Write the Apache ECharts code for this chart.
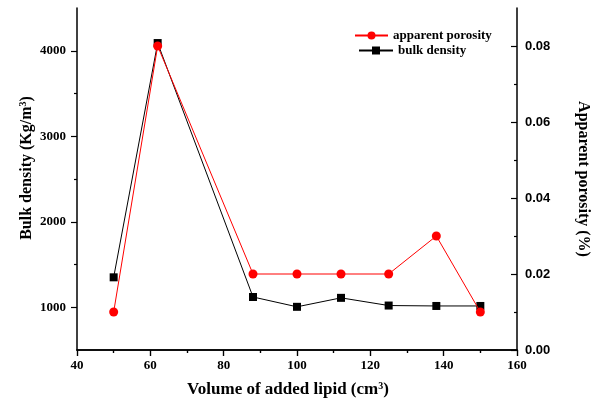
<!DOCTYPE html>
<html>
<head>
<meta charset="utf-8">
<script src="https://cdn.jsdelivr.net/npm/echarts@6/dist/echarts.min.js"></script>
<style>html,body{margin:0;padding:0;background:#fff;}#c{width:596px;height:402px;}</style>
</head>
<body>
<div id="c"></div>
<script>
const volume = [50, 62, 88, 100, 112, 125, 138, 150];
const bulkDensity = [1350, 4090, 1120, 1005, 1110, 1020, 1015, 1015];
const apparentPorosity = [0.010, 0.080, 0.020, 0.020, 0.020, 0.020, 0.030, 0.010];
const leftTicks = [1000, 2000, 3000, 4000];
const leftMinorTicks = [1500, 2500, 3500];
const rightTicks = [0, 0.02, 0.04, 0.06, 0.08];
const rightMinorTicks = [0.01, 0.03, 0.05, 0.07];

const serif = 'Liberation Serif';
const sans = 'Liberation Sans';
const axisLine = {show: true, lineStyle: {color: '#000', width: 1.5}};

const chart = echarts.init(document.getElementById('c'));
chart.setOption({
  animation: false,
  backgroundColor: '#fff',
  grid: {left: 77, right: 79, top: 8, bottom: 52, containLabel: false, outerBoundsMode: 'none'},
  legend: [
    {data: ['apparent porosity'], left: 354, top: 29, padding: 0, itemWidth: 33, itemHeight: 10, itemGap: 0,
     textStyle: {fontFamily: serif, fontWeight: 'bold', fontSize: 13, color: '#000'}},
    {data: ['bulk density'], left: 358, top: 44, padding: 0, itemWidth: 34, itemHeight: 10, itemGap: 0,
     textStyle: {fontFamily: serif, fontWeight: 'bold', fontSize: 13, color: '#000'}}
  ],
  xAxis: [
    {type: 'value', position: 'bottom', min: 40, max: 160, interval: 20,
     axisLine: axisLine, splitLine: {show: false},
     axisTick: {show: true, inside: false, length: 6, lineStyle: {color: '#000', width: 1.2}},
     minorTick: {show: true, splitNumber: 2, length: 3, lineStyle: {color: '#000', width: 1.2}},
     axisLabel: {margin: 9, fontFamily: serif, fontWeight: 'bold', fontSize: 13, color: '#000'},
     name: 'Volume of added lipid (cm{sup|3})', nameLocation: 'middle', nameGap: 31, nameMoveOverlap: false,
     nameTextStyle: {fontFamily: serif, fontWeight: 'bold', fontSize: 17, color: '#000', padding: [0, 18, 0, 0],
       rich: {sup: {fontFamily: serif, fontWeight: 'bold', fontSize: 10, color: '#000', verticalAlign: 'top', padding: [0, 0, 8, 0]}}}},
    {type: 'value', position: 'top', min: 40, max: 160, interval: 20,
     axisLine: axisLine, splitLine: {show: false},
     axisTick: {show: true, inside: true, length: 6, lineStyle: {color: '#000', width: 1.2}},
     minorTick: {show: true, splitNumber: 2, length: 3, lineStyle: {color: '#000', width: 1.2}},
     axisLabel: {show: false}}
  ],
  yAxis: [
    {type: 'value', position: 'left', min: 500, max: 4500, interval: 500,
     axisLine: axisLine, splitLine: {show: false},
     axisTick: {show: true, inside: false, length: 6, customValues: leftTicks, lineStyle: {color: '#000', width: 1.2}},
     axisLabel: {customValues: leftTicks, margin: 11, fontFamily: serif, fontWeight: 'bold', fontSize: 13, color: '#000',
       formatter: v => String(v)},
     name: 'Bulk density (Kg/m{sup|3})', nameLocation: 'middle', nameGap: 41, nameMoveOverlap: false,
     nameTextStyle: {fontFamily: serif, fontWeight: 'bold', fontSize: 16, color: '#000', padding: [0, 0, 0, 22],
       rich: {sup: {fontFamily: serif, fontWeight: 'bold', fontSize: 10, color: '#000', verticalAlign: 'top', padding: [0, 0, 8, 0]}}}},
    {type: 'value', position: 'right', min: 0, max: 0.09, interval: 0.01,
     axisLine: axisLine, splitLine: {show: false},
     axisTick: {show: true, inside: true, length: 6, customValues: rightTicks, lineStyle: {color: '#000', width: 1.2}},
     axisLabel: {customValues: rightTicks, margin: 8, fontFamily: sans, fontWeight: 'bold', fontSize: 13, color: '#000',
       formatter: v => v.toFixed(2)},
     name: 'Apparent porosity (%)', nameLocation: 'middle', nameGap: 58, nameRotate: -90, nameMoveOverlap: false,
     nameTextStyle: {fontFamily: serif, fontWeight: 'bold', fontSize: 16, color: '#000'}},
    {type: 'value', position: 'left', min: 500, max: 4500, interval: 500,
     axisLine: {show: false}, splitLine: {show: false}, axisLabel: {show: false},
     axisTick: {show: true, inside: false, length: 3, customValues: leftMinorTicks, lineStyle: {color: '#000', width: 1.2}}},
    {type: 'value', position: 'right', min: 0, max: 0.09, interval: 0.01,
     axisLine: {show: false}, splitLine: {show: false}, axisLabel: {show: false},
     axisTick: {show: true, inside: true, length: 3, customValues: rightMinorTicks, lineStyle: {color: '#000', width: 1.2}}}
  ],
  series: [
    {name: 'bulk density', type: 'line', xAxisIndex: 0, yAxisIndex: 0,
     data: volume.map((x, i) => [x, bulkDensity[i]]),
     symbol: 'rect', symbolSize: 8, showSymbol: true,
     lineStyle: {color: '#000', width: 1}, itemStyle: {color: '#000'}, z: 2},
    {name: 'apparent porosity', type: 'line', xAxisIndex: 0, yAxisIndex: 1,
     data: volume.map((x, i) => [x, apparentPorosity[i]]),
     symbol: 'circle', symbolSize: 9, showSymbol: true,
     lineStyle: {color: '#ff0000', width: 1}, itemStyle: {color: '#ff0000'}, z: 3}
  ]
});
</script>
</body>
</html>
